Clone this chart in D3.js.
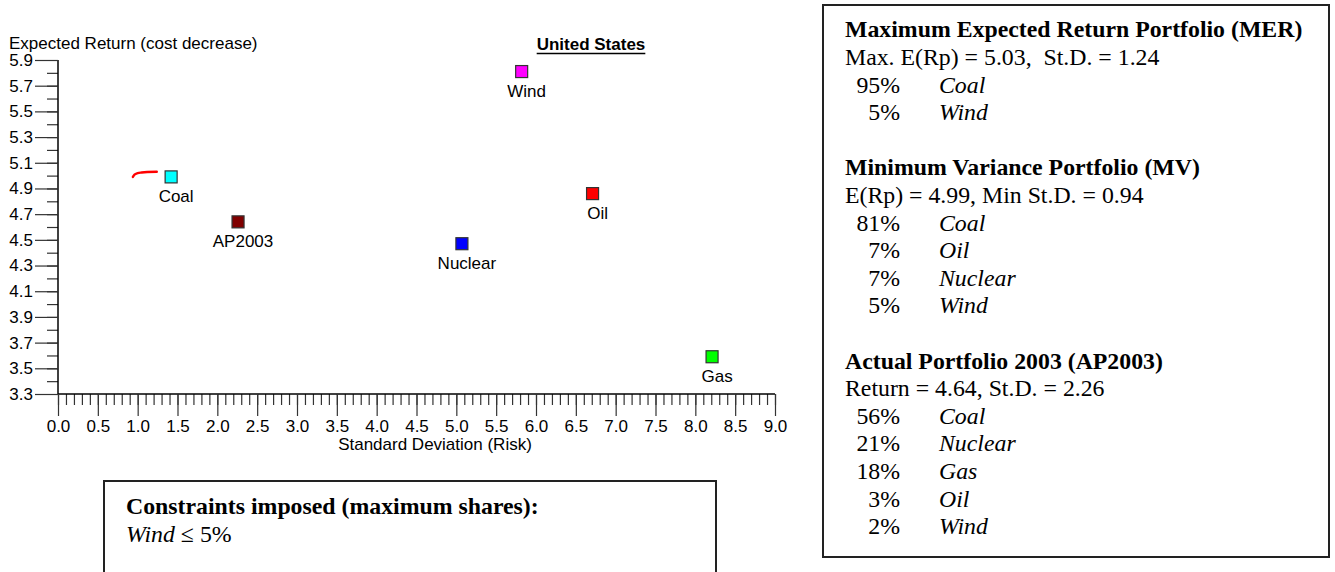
<!DOCTYPE html>
<html>
<head>
<meta charset="utf-8">
<script src="https://cdn.jsdelivr.net/npm/d3@7"></script>
<style>
  html, body { margin: 0; padding: 0; background: #fff; }
  svg { display: block; }
  .sans { font-family: "Liberation Sans", Arial, sans-serif; }
  .serif { font-family: "Liberation Serif", "Times New Roman", serif; }
  .serif text { white-space: pre; }
</style>
</head>
<body>
<svg id="chart" width="1335" height="572"></svg>
<script>
// Technologies: risk (standard deviation) and expected return
const techNames  = ["Coal", "AP2003", "Wind", "Oil", "Nuclear", "Gas"];
const techRisk   = [1.42, 2.26, 5.82, 6.71, 5.07, 8.21];
const techReturn = [4.99, 4.64, 5.81, 4.86, 4.47, 3.59];
const techColors = ["#00ffff", "#800000", "#ff00ff", "#ff0000", "#0000ff", "#00ff00"];

// Efficient frontier segment from the MV to the MER portfolio
const frontierRisk   = [0.94, 0.96, 1.00, 1.05, 1.12, 1.24];
const frontierReturn = [4.99, 5.008, 5.019, 5.024, 5.028, 5.03];

// Axis ticks
const yTickValues = [3.3, 3.5, 3.7, 3.9, 4.1, 4.3, 4.5, 4.7, 4.9, 5.1, 5.3, 5.5, 5.7, 5.9];
const xTickValues = [0, 0.5, 1, 1.5, 2, 2.5, 3, 3.5, 4, 4.5, 5, 5.5, 6, 6.5, 7, 7.5, 8, 8.5, 9];

// Portfolio summaries
const portfolioTitles = [
  "Maximum Expected Return Portfolio (MER)",
  "Minimum Variance Portfolio (MV)",
  "Actual Portfolio 2003 (AP2003)"
];
const portfolioStats = [
  "Max. E(Rp) = 5.03,\u00a0 St.D. = 1.24",
  "E(Rp) = 4.99, Min St.D. = 0.94",
  "Return = 4.64, St.D. = 2.26"
];
const portfolioShares = [
  [[95, "Coal"], [5, "Wind"]],
  [[81, "Coal"], [7, "Oil"], [7, "Nuclear"], [5, "Wind"]],
  [[56, "Coal"], [21, "Nuclear"], [18, "Gas"], [3, "Oil"], [2, "Wind"]]
];

const svg = d3.select("#chart");

const x = d3.scaleLinear().domain([0, 9]).range([58, 775]);
const y = d3.scaleLinear().domain([3.3, 5.9]).range([394, 60]);

const tickColor = "#333";

// Y axis: major ticks every 0.2, minor every 0.1
const yMinor = d3.range(34, 59).map(v => v / 10);
const yAxisMinor = svg.append("g").attr("transform", `translate(${x(0)},0)`)
  .call(d3.axisLeft(y).tickValues(yMinor).tickSize(11).tickFormat(""));
yAxisMinor.select(".domain").remove();
yAxisMinor.selectAll("line").attr("stroke", tickColor).attr("stroke-width", 1.2);

const yAxis = svg.append("g").attr("transform", `translate(${x(0)},0)`)
  .call(d3.axisLeft(y).tickValues(yTickValues).tickSize(23).tickPadding(2).tickFormat(d3.format(".1f")));
yAxis.select(".domain").attr("stroke", "#000").attr("stroke-width", 1.5).attr("d", `M0,${y(5.9)}V${y(3.3)}`);
yAxis.selectAll("line").attr("stroke", tickColor).attr("stroke-width", 1.2);
yAxis.selectAll("text").attr("class", "sans").attr("font-size", 17).attr("fill", "#000");

// X axis: major ticks every 0.5, minor every 0.1
const xMinor = d3.range(0, 91).map(v => v / 10);
const xAxisMinor = svg.append("g").attr("transform", `translate(0,${y(3.3)})`)
  .call(d3.axisBottom(x).tickValues(xMinor).tickSize(11).tickFormat(""));
xAxisMinor.select(".domain").remove();
xAxisMinor.selectAll("line").attr("stroke", tickColor).attr("stroke-width", 1.2);

const xAxis = svg.append("g").attr("transform", `translate(0,${y(3.3)})`)
  .call(d3.axisBottom(x).tickValues(xTickValues).tickSize(22).tickPadding(4).tickFormat(d3.format(".1f")));
xAxis.select(".domain").attr("stroke", "#000").attr("stroke-width", 1.5).attr("d", `M${x(0)},0H${x(9)}`);
xAxis.selectAll("line").attr("stroke", tickColor).attr("stroke-width", 1.2);
xAxis.selectAll("text").attr("class", "sans").attr("font-size", 17).attr("fill", "#000");

// Axis titles
svg.append("text").attr("class", "sans").attr("x", 9).attr("y", 48.5)
  .attr("font-size", 17).text("Expected Return (cost decrease)");
svg.append("text").attr("class", "sans").attr("x", 435).attr("y", 450)
  .attr("text-anchor", "middle").attr("font-size", 17).text("Standard Deviation (Risk)");

// Chart title, underlined
const title = svg.append("text").attr("class", "sans").attr("x", 591).attr("y", 50)
  .attr("text-anchor", "middle").attr("font-size", 17).attr("font-weight", "bold")
  .text("United States");
const tb = title.node().getBBox();
svg.append("line").attr("x1", tb.x).attr("x2", tb.x + tb.width)
  .attr("y1", 53.5).attr("y2", 53.5).attr("stroke", "#000").attr("stroke-width", 1.6);

// Efficient frontier
const frontier = frontierRisk.map((r, i) => [r, frontierReturn[i]]);
svg.append("path").datum(frontier)
  .attr("fill", "none").attr("stroke", "#ff0000").attr("stroke-width", 2.4)
  .attr("stroke-linecap", "round")
  .attr("d", d3.line().x(d => x(d[0])).y(d => y(d[1])).curve(d3.curveMonotoneX));

// Technology markers and labels
const techs = techNames.map((n, i) => ({ name: n, risk: techRisk[i], ret: techReturn[i], color: techColors[i] }));
const size = 12;
svg.append("g").selectAll("rect").data(techs).join("rect")
  .attr("x", d => x(d.risk) - size / 2).attr("y", d => y(d.ret) - size / 2)
  .attr("width", size).attr("height", size)
  .attr("fill", d => d.color).attr("stroke", "#333").attr("stroke-width", 1.2);
svg.append("g").selectAll("text").data(techs).join("text")
  .attr("class", "sans").attr("font-size", 17).attr("text-anchor", "middle")
  .attr("x", d => x(d.risk) + 5).attr("y", d => y(d.ret) + 25)
  .text(d => d.name);

// Portfolio summary box
svg.append("rect").attr("x", 823).attr("y", 5).attr("width", 506).attr("height", 552)
  .attr("fill", "none").attr("stroke", "#222").attr("stroke-width", 2);

const lineStep = 27.6, firstBase = 37.3, textLeft = 845, pctRight = 900, nameLeft = 939;
let row = 0;
const box = svg.append("g").attr("class", "serif").attr("font-size", 23.8);
portfolioTitles.forEach((t, s) => {
  box.append("text").attr("x", textLeft).attr("y", firstBase + lineStep * row)
    .attr("font-weight", "bold").text(t);
  row++;
  box.append("text").attr("x", textLeft).attr("y", firstBase + lineStep * row).text(portfolioStats[s]);
  row++;
  portfolioShares[s].forEach(([p, n]) => {
    const yy = firstBase + lineStep * row;
    box.append("text").attr("x", pctRight).attr("y", yy).attr("text-anchor", "end").text(p + "%");
    box.append("text").attr("x", nameLeft).attr("y", yy).attr("font-style", "italic").text(n);
    row++;
  });
  row++;
});

// Constraints box
svg.append("rect").attr("x", 104).attr("y", 481).attr("width", 612).attr("height", 130)
  .attr("fill", "none").attr("stroke", "#222").attr("stroke-width", 2);
const cons = svg.append("g").attr("class", "serif").attr("font-size", 23.8);
cons.append("text").attr("x", 126).attr("y", 514).attr("font-weight", "bold")
  .text("Constraints imposed (maximum shares):");
const c2 = cons.append("text").attr("x", 126).attr("y", 541.7);
c2.append("tspan").attr("font-style", "italic").text("Wind");
c2.append("tspan").text(" \u2264 5%");
</script>
</body>
</html>
